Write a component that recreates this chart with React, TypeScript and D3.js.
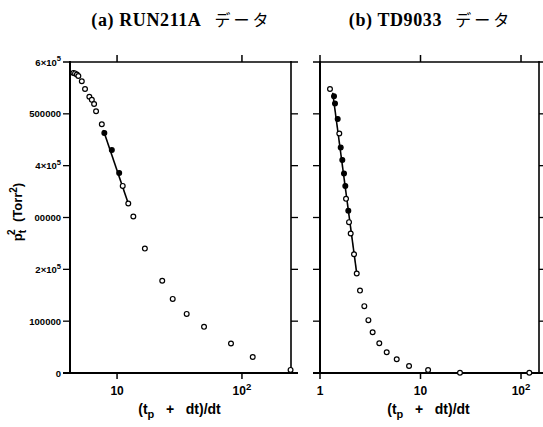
import React from "react";
import * as d3 from "d3";

// Panel (a) RUN211A
const aX = [4.47, 4.61, 4.77, 4.9, 5.22, 5.54, 6.0, 6.28, 6.55, 6.79, 7.55, 7.91, 9.08, 10.4, 11.1, 12.3, 13.5, 16.7, 23.0, 27.9, 36.1, 49.7, 81.7, 122, 245];
const aY = [579000, 578000, 576000, 573000, 563000, 548000, 533000, 527000, 519000, 505000, 480000, 463000, 430000, 386000, 361000, 327000, 302000, 240000, 178000, 143000, 114000, 89000, 57000, 31000, 6000];
const aFilled = [11, 12, 13];
const aFitX = [7.76, 12.3];
const aFitY = [468700, 327000];

// Panel (b) TD9033
const bX = [1.257, 1.378, 1.41, 1.5, 1.556, 1.607, 1.667, 1.733, 1.786, 1.815, 1.913, 1.944, 2.02, 2.18, 2.32, 2.5, 2.76, 3.03, 3.34, 3.89, 4.61, 5.8, 7.69, 11.9, 24.7, 121];
const bY = [548000, 534000, 520000, 490000, 462000, 435000, 411000, 385000, 361000, 336000, 313000, 291000, 269000, 229000, 192000, 159000, 129000, 102000, 78500, 57300, 40000, 26400, 13500, 5800, 500, 500];
const bFilled = [1, 2, 3, 5, 6, 7, 8, 10];
const bFitX = [1.338, 2.32];
const bFitY = [540700, 192000];

const yTicks = [0, 100000, 200000, 300000, 400000, 500000, 600000];
const yTickLabels = ["0", "100000", "2×10|5", "00000", "4×10|5", "500000", "6×10|5"];
const aXTicks = [10, 100];
const bXTicks = [1, 10, 100];
const titlesLatin = ["(a) RUN211A", "(b) TD9033"];
const titleJa = "データ";

const sans = "Liberation Sans, Arial, sans-serif";

function tickLabel(s: string, size: number) {
  if (s.includes("|")) {
    const [base, exp] = s.split("|");
    return (
      <>
        <tspan>{base}</tspan>
        <tspan dy={-size * 0.45} fontSize={size * 0.8}>{exp}</tspan>
      </>
    );
  }
  return s;
}

function xLabel(v: number) {
  if (v === 100) return "10|2";
  return String(v);
}

type PanelProps = {
  xs: number[];
  ys: number[];
  filled: number[];
  fitX: number[];
  fitY: number[];
  xDomain: [number, number];
  xRange: [number, number];
  xTicks: number[];
  title: string;
  showYLabels: boolean;
};

const yTop = 62;
const yBot = 373;

function Panel(p: PanelProps) {
  const x = d3.scaleLog().domain(p.xDomain).range(p.xRange);
  const y = d3.scaleLinear().domain([0, 600000]).range([yBot, yTop]);
  const line = d3
    .line<number>()
    .x((_, i) => x(p.fitX[i]))
    .y((_, i) => y(p.fitY[i]));
  const [x0, x1] = p.xRange;
  const cx = (x0 + x1) / 2;
  return (
    <g>
      <text x={cx + 1} y={26} textAnchor="middle" style={{ whiteSpace: "pre" }}>
        <tspan fontSize={18} fontWeight="bold" fontFamily="Liberation Serif, serif" letterSpacing={0.6}>
          {p.title}
        </tspan>
        <tspan fontSize={16} fontFamily="Noto Sans CJK JP, sans-serif" letterSpacing={3}>
          {"  " + titleJa}
        </tspan>
      </text>
      {/* frame */}
      <line x1={x0} x2={x0} y1={yTop - 1} y2={yBot + 1} stroke="#000" strokeWidth={2} />
      <line x1={x1} x2={x1} y1={yTop - 1} y2={yBot + 1} stroke="#000" strokeWidth={1.6} />
      <line x1={x0 - 7} x2={x1 + 7} y1={yBot} y2={yBot} stroke="#000" strokeWidth={2} />
      <line x1={x0 - 7} x2={x1 + 7} y1={yTop} y2={yTop} stroke="#000" strokeWidth={1.6} />
      {/* y ticks */}
      {yTicks.map((t, i) => (
        <g key={"yt" + i}>
          {i > 0 && i < yTicks.length - 1 && (
            <>
              <line x1={x0 - 7} x2={x0} y1={y(t)} y2={y(t)} stroke="#000" strokeWidth={1.3} />
              <line x1={x1} x2={x1 + 7} y1={y(t)} y2={y(t)} stroke="#000" strokeWidth={1.3} />
            </>
          )}
          {p.showYLabels && (
            <text x={x0 - 9} y={y(t) + 3.5} textAnchor="end" fontSize={9.5} fontWeight="bold" fontFamily={sans}>
              {tickLabel(yTickLabels[i], 9.5)}
            </text>
          )}
        </g>
      ))}
      {/* x ticks */}
      {p.xTicks.map((t, i) => (
        <g key={"xt" + i}>
          <line x1={x(t)} x2={x(t)} y1={yBot} y2={yBot + 6} stroke="#000" strokeWidth={1.5} />
          <line x1={x(t)} x2={x(t)} y1={yTop - 7} y2={yTop} stroke="#000" strokeWidth={1.5} />
          <text x={x(t)} y={395} textAnchor="middle" fontSize={12} fontWeight="bold" fontFamily={sans}>
            {tickLabel(xLabel(t), 12)}
          </text>
        </g>
      ))}
      {/* fit line */}
      <path d={line(p.fitX) || ""} fill="none" stroke="#000" strokeWidth={1.6} />
      {/* points */}
      {p.xs.map((v, i) => {
        const f = p.filled.includes(i);
        return (
          <circle
            key={"pt" + i}
            cx={x(v)}
            cy={y(p.ys[i])}
            r={2.4}
            fill={f ? "#000" : "#fff"}
            stroke="#000"
            strokeWidth={1.2}
          />
        );
      })}
      {/* x title */}
      <text x={cx - 1} y={414} textAnchor="middle" fontSize={14} fontWeight="bold" fontFamily={sans} style={{ whiteSpace: "pre" }}>
        <tspan>(t</tspan>
        <tspan dy={4} fontSize={11}>p</tspan>
        <tspan dy={-4}>{"   +   dt)/dt"}</tspan>
      </text>
    </g>
  );
}

export default function App() {
  return (
    <svg width={543} height={427} style={{ position: "absolute", left: 0, top: 0, background: "#fff" }}>
      <rect width={543} height={427} fill="#fff" />
      <Panel
        xs={aX}
        ys={aY}
        filled={aFilled}
        fitX={aFitX}
        fitY={aFitY}
        xDomain={[4.2, 247]}
        xRange={[70, 291]}
        xTicks={aXTicks}
        title={titlesLatin[0]}
        showYLabels={true}
      />
      <Panel
        xs={bX}
        ys={bY}
        filled={bFilled}
        fitX={bFitX}
        fitY={bFitY}
        xDomain={[1, 151]}
        xRange={[320, 539]}
        xTicks={bXTicks}
        title={titlesLatin[1]}
        showYLabels={false}
      />
      <text transform="translate(22,212) rotate(-90)" textAnchor="middle" fontSize={13} fontWeight="bold" fontFamily={sans} style={{ whiteSpace: "pre" }}>
        <tspan>p</tspan>
        <tspan dy={4} fontSize={10}>t</tspan>
        <tspan dx={-5} dy={-11} fontSize={10}>2</tspan>
        <tspan dy={7}>{"  (Torr"}</tspan>
        <tspan dy={-5} fontSize={10}>2</tspan>
        <tspan dy={5}>)</tspan>
      </text>
    </svg>
  );
}
